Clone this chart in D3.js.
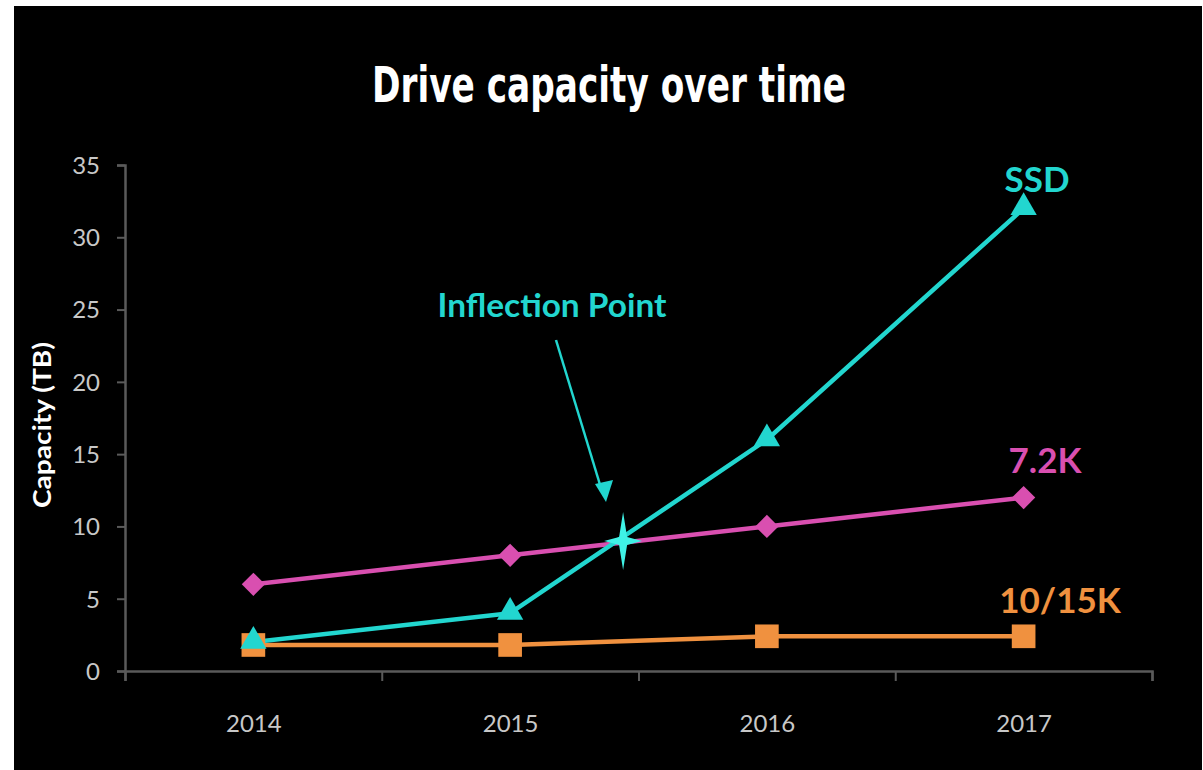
<!DOCTYPE html>
<html>
<head>
<meta charset="utf-8">
<title>Drive capacity over time</title>
<script src="https://d3js.org/d3.v7.min.js"></script>
<style>
  html, body { margin: 0; padding: 0; background: #fff; }
  svg { display: block; }
</style>
</head>
<body>
<script>
var W = 1203, H = 770;

// data
var years = [2014, 2015, 2016, 2017];
var ssd = [2, 4, 16, 32];
var k72 = [6, 8, 10, 12];
var k1015 = [1.8, 1.8, 2.4, 2.4];
var yTicks = [0, 5, 10, 15, 20, 25, 30, 35];
var inflection = { year: 2015.44, value: 9 };

var series = [
  { name: "SSD", values: ssd, color: "#22d6cf", marker: "triangle", lx: 1037, ly: 192 },
  { name: "7.2K", values: k72, color: "#d94fb0", marker: "diamond", lx: 1045, ly: 473 },
  { name: "10/15K", values: k1015, color: "#f0913f", marker: "square", lx: 1060, ly: 613 }
];

var svg = d3.select("body").append("svg")
  .attr("width", W)
  .attr("height", H);

// black slide background
svg.append("rect")
  .attr("x", 14).attr("y", 6)
  .attr("width", W - 15).attr("height", H - 6)
  .attr("fill", "#000");

var x = d3.scaleLinear().domain([2013.5, 2017.5]).range([125, 1152]);
var y = d3.scaleLinear().domain([0, 35]).range([671, 165]);

// title (condensed look)
svg.append("text")
  .attr("x", 609).attr("y", 102)
  .attr("text-anchor", "middle")
  .attr("fill", "#fff")
  .attr("textLength", 474)
  .attr("lengthAdjust", "spacingAndGlyphs")
  .style("font-family", "'DejaVu Sans Condensed', 'Liberation Sans', sans-serif")
  .style("font-weight", "bold")
  .style("font-size", "49px")
  .text("Drive capacity over time");

// axes
var axisColor = "#5a5a5a";
var xAxis = svg.append("g")
  .attr("transform", "translate(0," + y(0) + ")")
  .call(d3.axisBottom(x).tickValues([2013.5, 2014.5, 2015.5, 2016.5, 2017.5]).tickFormat("").tickSize(10));
var xLabels = svg.append("g")
  .attr("transform", "translate(0," + y(0) + ")")
  .call(d3.axisBottom(x).tickValues(years).tickFormat(d3.format("d")).tickSize(0).tickPadding(44));
xLabels.select(".domain").remove();

var yAxis = svg.append("g")
  .attr("transform", "translate(" + x(2013.5) + ",0)")
  .call(d3.axisLeft(y).tickValues(yTicks).tickSize(8).tickPadding(17));

[xAxis, yAxis].forEach(function (g) {
  g.select(".domain").attr("stroke", axisColor).attr("stroke-width", 2.5);
  g.selectAll(".tick line").attr("stroke", axisColor).attr("stroke-width", 2);
});
[xLabels, yAxis].forEach(function (g) {
  g.selectAll(".tick text")
    .attr("fill", "#c8c8c8")
    .style("font-family", "Lato, 'Open Sans', sans-serif")
    .style("font-size", "24px");
});
yAxis.selectAll(".tick text").attr("dy", "0.35em");

// y axis title
svg.append("text")
  .attr("transform", "translate(51,425) rotate(-90)")
  .attr("text-anchor", "middle")
  .attr("fill", "#fff")
  .attr("textLength", 166)
  .attr("lengthAdjust", "spacingAndGlyphs")
  .style("font-family", "Lato, 'Open Sans', sans-serif")
  .style("font-weight", "bold")
  .style("font-size", "25px")
  .text("Capacity (TB)");

// lines
var line = d3.line()
  .x(function (d, i) { return x(years[i]); })
  .y(function (d) { return y(d); });

// draw order: 10/15K under, then 7.2K, SSD on top
var order = [series[2], series[1], series[0]];
order.forEach(function (s) {
  svg.append("path")
    .datum(s.values)
    .attr("d", line)
    .attr("fill", "none")
    .attr("stroke", s.color)
    .attr("stroke-width", 4.5);
});

var shapes = {
  triangle: d3.symbol().type(d3.symbolTriangle).size(300),
  diamond: d3.symbol().type(d3.symbolSquare).size(270),
  square: d3.symbol().type(d3.symbolSquare).size(560)
};

order.forEach(function (s) {
  svg.selectAll(null)
    .data(s.values)
    .enter()
    .append("path")
    .attr("d", shapes[s.marker]())
    .attr("transform", function (d, i) {
      var t = "translate(" + x(years[i]) + "," + y(d) + ")";
      if (s.marker === "diamond") t += " rotate(45)";
      if (s.marker === "triangle") t += " translate(0,-1)";
      return t;
    })
    .attr("fill", s.color);
});

// series labels
series.forEach(function (s) {
  svg.append("text")
    .attr("x", s.lx).attr("y", s.ly)
    .attr("text-anchor", "middle")
    .attr("fill", s.color)
    .style("font-family", "Lato, 'Open Sans', sans-serif")
    .style("font-weight", "bold")
    .style("font-size", "35px")
    .text(s.name);
});

// inflection point sparkle
var cx = x(inflection.year), cy = y(inflection.value);
var star = "M0,-29 L4,-4 L19,0 L4,4 L0,29 L-4,4 L-19,0 L-4,-4 Z";
svg.append("path")
  .attr("d", star)
  .attr("transform", "translate(" + cx + "," + cy + ")")
  .attr("fill", "#3ff2e6");

// annotation arrow
var ann = svg.append("g");
ann.append("line")
  .attr("x1", 556).attr("y1", 340)
  .attr("x2", 601).attr("y2", 488)
  .attr("stroke", "#22d6cf")
  .attr("stroke-width", 2.5);
ann.append("path")
  .attr("d", "M595,484 L613,480 L606,502 Z")
  .attr("fill", "#22d6cf");
ann.append("text")
  .attr("x", 552).attr("y", 317)
  .attr("text-anchor", "middle")
  .attr("fill", "#22d6cf")
  .attr("textLength", 229)
  .attr("lengthAdjust", "spacingAndGlyphs")
  .style("font-family", "Lato, 'Open Sans', sans-serif")
  .style("font-weight", "bold")
  .style("font-size", "32px")
  .text("Inflection Point");
</script>
</body>
</html>
